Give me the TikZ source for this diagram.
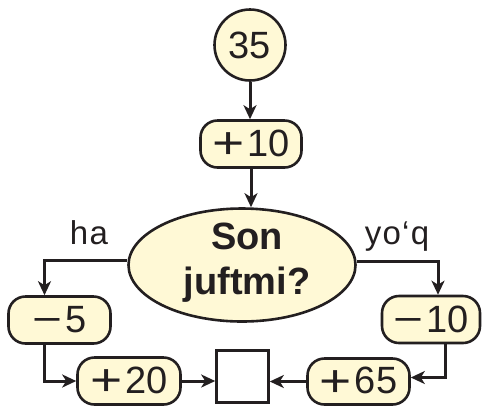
\documentclass[tikz,border=0pt]{standalone}
\usepackage{fontspec}
\setmainfont{Liberation Sans}
\usetikzlibrary{shapes.geometric,arrows.meta}
\definecolor{yel}{RGB}{255,249,214}
\definecolor{ink}{RGB}{35,31,32}
\newcommand\Pls{\raisebox{-0.065em}{\scalebox{1.45}[1.18]{+}}\kern3bp}
\newcommand\Mns{\scalebox{1.35}[1]{−}\kern3bp}
\begin{document}
\begin{tikzpicture}[x=1bp,y=-1bp,
  every node/.style={text=ink},
  big/.style={font=\fontsize{38bp}{45bp}\selectfont},
  lbl/.style={font=\fontsize{33bp}{38bp}\selectfont\addfontfeature{LetterSpace=4}, anchor=base, inner sep=0pt},
  opbox/.style={draw=ink, fill=yel, line width=2.6bp, rounded corners=17bp,
    minimum width=#1, minimum height=47bp, inner sep=0pt, big},
  arr/.style={draw=ink, line width=3bp, -{Stealth[length=14bp,width=13bp,inset=4bp]}},
]
\useasboundingbox (0,0) rectangle (483,409);
\node[circle, draw=ink, fill=yel, line width=2.6bp, minimum size=71bp, inner sep=0pt, big] (n35) at (250,45) {35};
\node[opbox=101bp] (p10) at (251,144) {\Pls10};
\node[ellipse, draw=ink, fill=yel, line width=2.6bp, minimum width=227bp, minimum height=113bp, inner sep=0pt] (q) at (242,265) {};
\node[align=center, inner sep=0pt, font=\fontsize{38bp}{45bp}\selectfont\bfseries] (qt) at (247,262.5) {Son\\juftmi?};
\node[opbox=102bp] (m5) at (59.5,320) {\Mns5};
\node[opbox=98bp] (m10) at (431,319.5) {\Mns10};
\node[opbox=103bp] (p20) at (129,381) {\Pls20};
\node[opbox=102bp, minimum height=46bp] (p65) at (358.5,381.5) {\Pls65};
\node[draw=ink, fill=white, line width=2.6bp, minimum size=52bp, inner sep=0pt] (res) at (242.5,376.5) {};
\node[lbl] (ha) at (89,244) {ha};
\node[lbl] (yq) at (397,244) {yo‘q};

\draw[arr] (n35.south) -- (n35.south |- p10.north);
\draw[arr] (p10.south) -- (p10.south |- q.north);
\draw[arr] ([yshift=5bp]q.west) -| ([xshift=-15bp]m5.north);
\draw[arr] ([yshift=4bp]q.east) -| ([xshift=7bp]m10.north);
\draw[arr] ([xshift=-15bp]m5.south) |- (p20.west);
\draw[arr] ([xshift=14bp]m10.south) |- ([yshift=4bp]p65.east);
\draw[arr] (p20.east) -- (p20.east -| res.west);
\draw[arr] (p65.west) -- (p65.west -| res.east);
\end{tikzpicture}
\end{document}
